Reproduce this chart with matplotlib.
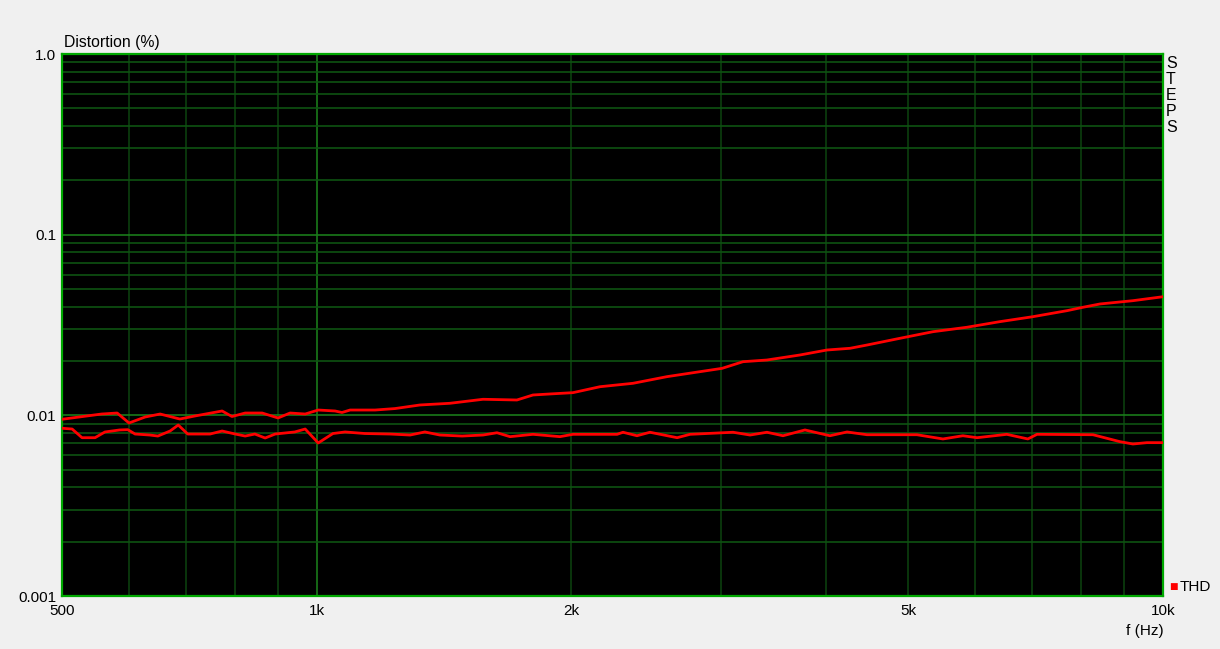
import matplotlib
matplotlib.use('Agg')
import matplotlib.pyplot as plt
from matplotlib.ticker import NullLocator, FixedLocator, NullFormatter

# Datos (frecuencia en Hz, distorsion en %)
freq_upper = [500, 557, 581, 600, 627, 653, 689, 718, 773, 794, 823, 862, 900, 930, 969,
              1004, 1051, 1071, 1095, 1172, 1237, 1324, 1437, 1572, 1724, 1801, 1886, 2008,
              2161, 2364, 2593, 2836, 3013, 3189, 3404, 3724, 4007, 4268, 4469, 4888, 5347,
              5864, 6415, 7020, 7699, 8042, 8424, 9214, 10000]
thd_upper = [0.00951, 0.01017, 0.0103, 0.00907, 0.00979, 0.01017, 0.00954, 0.00992, 0.01057,
             0.00985, 0.0103, 0.0103, 0.00967, 0.0103, 0.01017, 0.0107, 0.01057, 0.01037,
             0.0107, 0.0107, 0.0109, 0.01141, 0.01166, 0.01227, 0.01216, 0.01296, 0.01313,
             0.01335, 0.0144, 0.01504, 0.01637, 0.01744, 0.0182, 0.01981, 0.02024, 0.02158,
             0.02299, 0.0235, 0.0245, 0.02669, 0.02903, 0.03072, 0.033, 0.03516, 0.03795,
             0.03963, 0.04134, 0.04311, 0.04535]

freq_lower = [500, 514, 528, 547, 562, 585, 598, 610, 635, 649, 671, 686, 704, 748, 773, 801,
              823, 845, 869, 893, 942, 969, 1004, 1045, 1080, 1140, 1221, 1289, 1342, 1398,
              1485, 1572, 1633, 1692, 1801, 1938, 2008, 2264, 2301, 2390, 2476, 2666, 2761,
              3104, 3251, 3404, 3556, 3775, 4040, 4233, 4469, 5119, 5495, 5801, 6029, 6538,
              6923, 7098, 8265, 8893, 9214, 9571, 10000]
thd_lower = [0.00848, 0.0084, 0.00752, 0.00752, 0.00809, 0.0083, 0.00833, 0.00788, 0.00778,
             0.00768, 0.00819, 0.00884, 0.00788, 0.00788, 0.00819, 0.00788, 0.00768, 0.00788,
             0.00749, 0.00788, 0.00809, 0.0084, 0.00703, 0.00793, 0.00809, 0.00793, 0.00788,
             0.00778, 0.00809, 0.00778, 0.00768, 0.00778, 0.00801, 0.00762, 0.00785, 0.00762,
             0.00785, 0.00785, 0.00806, 0.00771, 0.00806, 0.00752, 0.00785, 0.00806, 0.00778,
             0.00806, 0.00771, 0.0083, 0.00771, 0.00809, 0.00781, 0.00781, 0.0074, 0.00771,
             0.00752, 0.00785, 0.0074, 0.00785, 0.00781, 0.00715, 0.00694, 0.00706, 0.00706]

x_ticks = [500, 1000, 2000, 5000, 10000]
x_labels = ['500', '1k', '2k', '5k', '10k']
y_ticks = [0.001, 0.01, 0.1, 1.0]
y_labels = ['0.001', '0.01', '0.1', '1.0']
x_grid = [600, 700, 800, 900, 1000, 2000, 3000, 4000, 5000, 6000, 7000, 8000, 9000]
y_grid = [m * d for d in (0.001, 0.01, 0.1) for m in range(2, 10)] + [0.01, 0.1]

plt.rcParams['font.family'] = ['Liberation Sans', 'DejaVu Sans']
W, H = 1220, 649
fig = plt.figure(figsize=(W / 100, H / 100), dpi=100, facecolor='#f0f0f0')
ax = fig.add_axes([62 / W, 1 - 596 / H, (1163 - 62) / W, (596 - 54) / H])
ax.set_facecolor('black')
ax.set_xscale('log')
ax.set_yscale('log')
ax.set_xlim(500, 10000)
ax.set_ylim(0.001, 1.0)

# Rejilla
for f in x_grid:
    c = '#1a7a1a' if f == 1000 else '#0b3f0e'
    ax.axvline(f, color=c, lw=1.2, zorder=1)
for v in y_grid:
    c = '#1a7a1a' if v in (0.01, 0.1) else '#0e5212'
    ax.axhline(v, color=c, lw=1.2, zorder=1)

ax.plot(freq_upper, thd_upper, color='#ff0000', lw=2.0, zorder=3)
ax.plot(freq_lower, thd_lower, color='#ff0000', lw=2.0, zorder=3)

ax.xaxis.set_major_locator(FixedLocator(x_ticks))
ax.xaxis.set_minor_locator(NullLocator())
ax.set_xticklabels(x_labels)
ax.yaxis.set_major_locator(FixedLocator(y_ticks))
ax.yaxis.set_minor_locator(NullLocator())
ax.yaxis.set_minor_formatter(NullFormatter())
ax.set_yticklabels(y_labels)
ax.tick_params(length=0, labelsize=11, colors='black')
ax.tick_params(axis='x', pad=6)
ax.tick_params(axis='y', pad=4)

for s in ax.spines.values():
    s.set_color('#00a800')
    s.set_linewidth(1.6)

fig.text(64 / W, 1 - 43 / H, 'Distortion (%)', fontsize=11.3, va='center', ha='left')
fig.text(1164 / W, 1 - 631 / H, 'f (Hz)', fontsize=11, va='center', ha='right')
fig.text(1166 / W, 1 - 56 / H, 'S\nT\nE\nP\nS', fontsize=11.5, va='top', ha='left',
         linespacing=1.08)
fig.text(1173 / W, 1 - 587 / H, '\u25a0', color='#ff0000', fontsize=6.5, va='center', ha='center',
         family='DejaVu Sans')
fig.text(1180 / W, 1 - 587 / H, 'THD', fontsize=11, va='center', ha='left')

fig.savefig('out.png', dpi=100, facecolor=fig.get_facecolor())
